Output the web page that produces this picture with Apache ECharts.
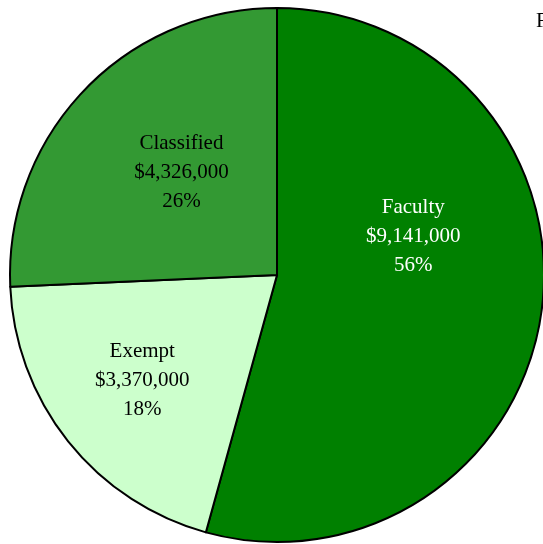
<!DOCTYPE html>
<html>
<head>
<meta charset="utf-8">
<script src="https://cdn.jsdelivr.net/npm/echarts@6/dist/echarts.min.js"></script>
<style>
    html, body { margin: 0; padding: 0; background: #fff; }
    #chart { width: 543px; height: 544px; }
</style>
</head>
<body>
<div id="chart"></div>
<script>
    // slices, clockwise from 12 o'clock
    var categories = ['Faculty', 'Exempt', 'Classified'];
    var amounts = [9141000, 3370000, 4326000];
    var percentLabels = ['56%', '18%', '26%'];

    var colors = ['#008000', '#ccffcc', '#339933'];
    var textColors = ['#ffffff', '#000000', '#000000'];
    var labelOffsets = [[1, -57], [-28, 20], [3, -8]];

    function money(v) {
        return '$' + v.toString().replace(/\B(?=(\d{3})+(?!\d))/g, ',');
    }

    var pieData = categories.map(function (name, i) {
        return {
            name: name,
            value: amounts[i],
            itemStyle: { color: colors[i] },
            label: { color: textColors[i], offset: labelOffsets[i] }
        };
    });

    var chart = echarts.init(document.getElementById('chart'));
    chart.setOption({
        animation: false,
        graphic: [{
            type: 'text',
            left: 536,
            top: 11,
            style: { text: 'F', font: '21px "Liberation Serif"', fill: '#000' }
        }],
        series: [{
            type: 'pie',
            center: [277, 275],
            radius: 267,
            startAngle: 90,
            clockwise: true,
            data: pieData,
            itemStyle: { borderColor: '#000', borderWidth: 2 },
            label: {
                show: true,
                position: 'inside',
                fontFamily: 'Liberation Serif',
                fontSize: 21,
                lineHeight: 29,
                align: 'center',
                formatter: function (p) {
                    return p.name + '\n' + money(p.value) + '\n' + percentLabels[p.dataIndex];
                }
            },
            labelLine: { show: false },
            emphasis: { disabled: true }
        }]
    });
</script>
</body>
</html>
